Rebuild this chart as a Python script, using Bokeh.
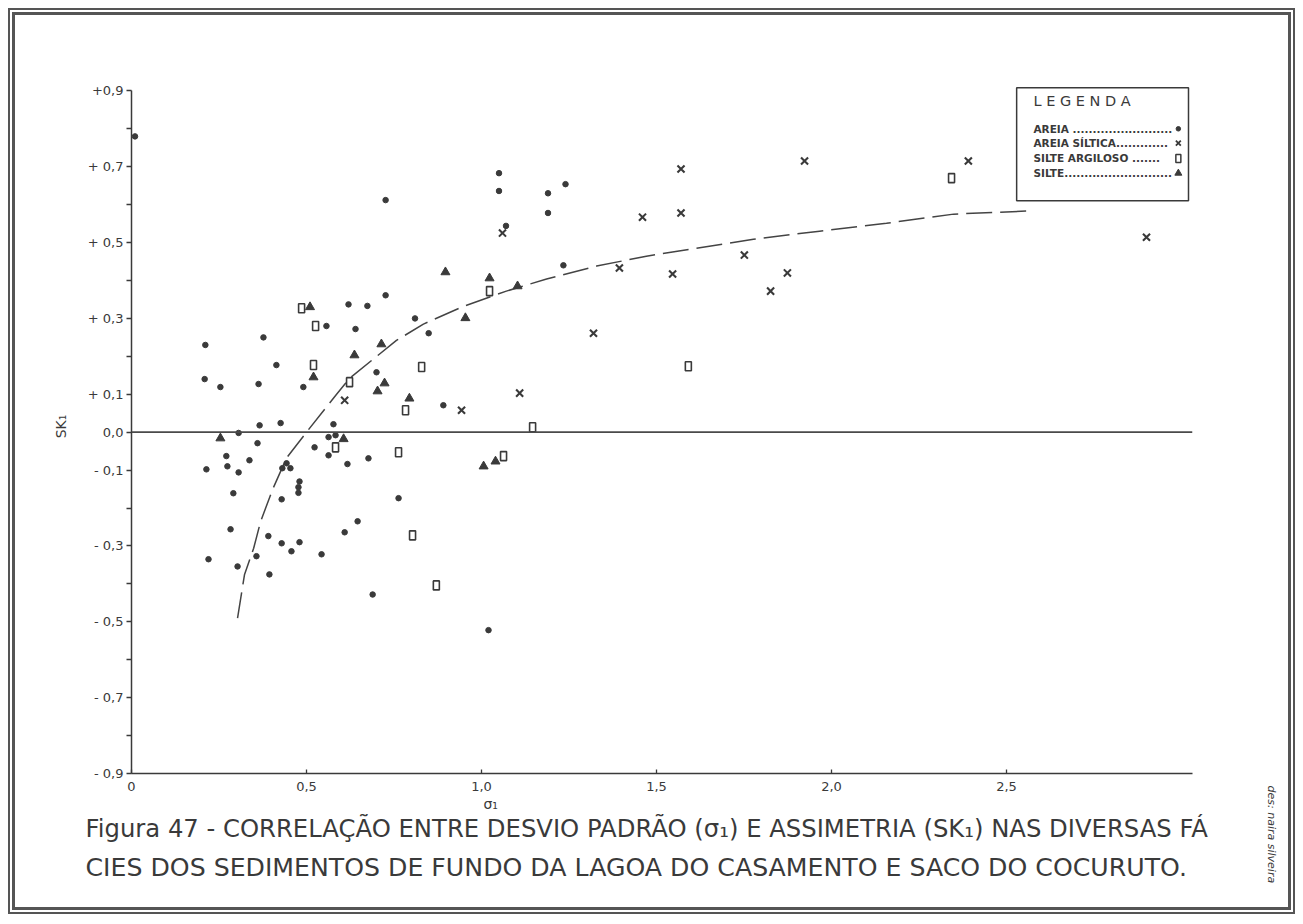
import math
from bokeh.plotting import figure
from bokeh.models import FixedTicker, Span, Label, BoxAnnotation, Title
from bokeh.embed import file_html
from bokeh.resources import INLINE

# ---------------- data ----------------
areia_x = [0.01, 0.211, 0.377, 0.414, 0.209, 0.254, 0.363, 0.491, 0.62, 0.674,
           0.557, 0.64, 0.81, 0.70, 0.726, 0.726, 0.366, 0.426, 0.577, 0.306,
           0.36, 0.563, 0.583, 0.523, 0.271, 0.563, 0.677, 0.337, 0.274, 0.617,
           0.214, 0.306, 0.431, 0.443, 0.454, 0.48, 0.477, 0.477, 0.291, 0.429,
           0.763, 0.646, 0.283, 0.609, 0.391, 0.429, 0.48, 0.457, 0.543, 0.22,
           0.357, 0.303, 0.394, 0.689, 1.02, 0.849, 1.05, 1.05, 1.19, 1.24,
           1.19, 1.07, 1.234, 0.891]
areia_y = [0.78, 0.23, 0.25, 0.177, 0.14, 0.119, 0.127, 0.119, 0.337, 0.333,
           0.28, 0.272, 0.30, 0.158, 0.612, 0.361, 0.018, 0.024, 0.021, -0.002,
           -0.029, -0.013, -0.008, -0.04, -0.063, -0.061, -0.069, -0.074, -0.09, -0.084,
           -0.098, -0.106, -0.095, -0.082, -0.095, -0.13, -0.145, -0.16, -0.161, -0.177,
           -0.174, -0.235, -0.256, -0.264, -0.274, -0.293, -0.29, -0.314, -0.322, -0.335,
           -0.327, -0.354, -0.375, -0.428, -0.522, 0.261, 0.683, 0.636, 0.63, 0.654,
           0.578, 0.544, 0.44, 0.071]

areia_siltica_x = [0.609, 0.943, 1.109, 1.06, 1.32, 1.394, 1.46, 1.546, 1.57, 1.57,
                   1.751, 1.826, 1.874, 1.923, 2.391, 2.90]
areia_siltica_y = [0.084, 0.058, 0.103, 0.525, 0.261, 0.433, 0.567, 0.417, 0.578, 0.694,
                   0.467, 0.372, 0.42, 0.715, 0.715, 0.514]

silte_argiloso_x = [0.486, 0.526, 0.52, 0.623, 0.783, 0.829, 0.583, 0.763, 0.803, 0.871,
                    1.023, 1.063, 1.146, 1.591, 2.343]
silte_argiloso_y = [0.327, 0.28, 0.177, 0.132, 0.058, 0.172, -0.04, -0.053, -0.272, -0.404,
                    0.372, -0.063, 0.013, 0.174, 0.67]

silte_x = [0.51, 0.714, 0.637, 0.52, 0.723, 0.703, 0.794, 0.254, 0.606, 0.897,
           1.023, 1.103, 0.954, 1.006, 1.04]
silte_y = [0.33, 0.232, 0.203, 0.145, 0.129, 0.108, 0.089, -0.016, -0.018, 0.422,
           0.406, 0.385, 0.301, -0.09, -0.077]

curve_x = [0.303, 0.323, 0.349, 0.369, 0.405, 0.443, 0.5, 0.586, 0.623, 0.694,
           0.757, 0.834, 0.949, 1.071, 1.186, 1.329, 1.471, 1.614, 1.777, 1.966,
           2.157, 2.349, 2.557]
curve_y = [-0.49, -0.375, -0.306, -0.235, -0.147, -0.068, 0.0, 0.1, 0.142, 0.195,
           0.242, 0.285, 0.332, 0.372, 0.404, 0.438, 0.464, 0.485, 0.509, 0.53,
           0.551, 0.575, 0.583]

x_ticks = [0, 0.5, 1.0, 1.5, 2.0, 2.5]
x_tick_labels = ["0", "0,5", "1,0", "1,5", "2,0", "2,5"]
y_ticks = [-0.9, -0.8, -0.7, -0.6, -0.5, -0.4, -0.3, -0.2, -0.1, 0.0,
           0.1, 0.2, 0.3, 0.4, 0.5, 0.6, 0.7, 0.8, 0.9]
y_tick_labels = ["- 0,9", "", "- 0,7", "", "- 0,5", "", "- 0,3", "", "- 0,1", "0,0",
                 "+ 0,1", "", "+ 0,3", "", "+ 0,5", "", "+ 0,7", "", "+0,9"]

legend_title = "L E G E N D A"
legend_labels = ["AREIA .........................",
                 "AREIA SÍLTICA.............",
                 "SILTE ARGILOSO .......",
                 "SILTE..........................."]
caption_1 = "Figura 47 - CORRELAÇÃO ENTRE DESVIO PADRÃO (σ\u2081) E ASSIMETRIA (SK\u2081) NAS DIVERSAS FÁ"
caption_2 = "CIES DOS SEDIMENTOS DE FUNDO DA LAGOA DO CASAMENTO E SACO DO COCURUTO."
x_label = "σ\u2081"
y_label = "SK\u2081"
author = "des: naira silveira"

# ---------------- figure ----------------
INK = "#3a3a3a"
FONT = "DejaVu Sans"

W, H = 1303, 922
FL, FR, FT, FB = 131, 1192, 79, 773        # frame edges on the page
p = figure(frame_width=FR - FL, frame_height=FB - FT,
           x_range=(0, (FR - FL) / 350), y_range=(-0.9, 0.93),
           min_border_left=FL, min_border_right=W - FR,
           min_border_top=FT, min_border_bottom=H - FB,
           output_backend="svg", toolbar_location=None)
p.outline_line_color = None
p.grid.visible = False
p.background_fill_color = None
p.border_fill_color = None
# drawing-sheet frame (double line) around the whole page
p.styles = {
    "background-color": "white",
    "box-shadow": ("inset 0 0 0 8px #ffffff, inset 0 0 0 10px #555555, "
                   "inset 0 0 0 12px #ffffff, inset 0 0 0 15px #555555"),
}

# axes
for ax in (p.xaxis[0], p.yaxis[0]):
    ax.axis_line_color = INK
    ax.axis_line_width = 1.5
    ax.major_tick_line_color = INK
    ax.major_tick_line_width = 1.3
    ax.minor_tick_line_color = None
    ax.major_label_text_font = FONT
    ax.major_label_text_font_size = "13px"
    ax.major_label_text_color = INK

xa = p.xaxis[0]
xa.ticker = FixedTicker(ticks=x_ticks)
xa.major_label_overrides = {float(t): l for t, l in zip(x_ticks, x_tick_labels)}
xa.major_tick_in = 4
xa.major_tick_out = 0
xa.major_label_standoff = 8

ya = p.yaxis[0]
ya.ticker = FixedTicker(ticks=y_ticks)
ya.major_label_overrides = {float(t): l for t, l in zip(y_ticks, y_tick_labels)}
ya.major_tick_in = 0
ya.major_tick_out = 5
ya.major_label_standoff = 3
ya.bounds = (-0.9, 0.9)
ya.axis_label = y_label
ya.axis_label_text_font = FONT
ya.axis_label_text_font_size = "14px"
ya.axis_label_text_font_style = "normal"
ya.axis_label_text_color = INK
ya.axis_label_standoff = 16

# zero line
p.add_layout(Span(location=0, dimension="width", line_color="#4a4a4a", line_width=1.8))

# regression curve
p.line(curve_x, curve_y, line_color="#444444", line_width=1.5, line_dash="26 8")

# data
p.scatter(areia_x, areia_y, marker="circle", size=5.5, fill_color=INK, line_color=INK)
p.scatter(areia_siltica_x, areia_siltica_y, marker="x", size=10, line_color=INK, line_width=2.1)
p.rect(silte_argiloso_x, silte_argiloso_y, width=6, height=9,
       width_units="screen", height_units="screen",
       fill_color=None, line_color=INK, line_width=1.6)
p.scatter(silte_x, silte_y, marker="triangle", size=9, fill_color=INK, line_color=INK)

# legend box (custom, as in the original)
p.add_layout(BoxAnnotation(left=2.529, right=3.02, bottom=0.61, top=0.908,
                           fill_alpha=0, line_color=INK, line_width=1.5, line_alpha=1))
p.add_layout(Label(x=2.577, y=0.872, text=legend_title, text_font=FONT,
                   text_font_size="14.5px", text_color=INK, text_baseline="middle"))
leg_y = [0.80, 0.762, 0.722, 0.683]
for yy, lab in zip(leg_y, legend_labels):
    p.add_layout(Label(x=2.577, y=yy, text=lab, text_font=FONT, text_font_size="10.5px",
                       text_font_style="bold", text_color=INK, text_baseline="middle"))
p.scatter([2.991], [leg_y[0]], marker="circle", size=4.5, fill_color=INK, line_color=INK)
p.scatter([2.991], [leg_y[1]], marker="x", size=7, line_color=INK, line_width=1.8)
p.rect([2.991], [leg_y[2]], width=5, height=8, width_units="screen", height_units="screen",
       fill_color=None, line_color=INK, line_width=1.5)
p.scatter([2.991], [leg_y[3]], marker="triangle", size=7, fill_color=INK, line_color=INK)

# x axis title and caption (side panels below the axis)
p.add_layout(Title(text=x_label, align="left", offset=352, standoff=0,
                   text_font=FONT, text_font_size="14px", text_font_style="normal",
                   text_color=INK), "below")
p.add_layout(Title(text=caption_1, align="left", offset=-46, standoff=0,
                   text_font=FONT, text_font_size="24.3px", text_font_style="normal",
                   text_color=INK), "below")
p.add_layout(Title(text=caption_2, align="left", offset=-46, standoff=17,
                   text_font=FONT, text_font_size="25.2px", text_font_style="normal",
                   text_color=INK), "below")

# author credit, vertical at the lower right (an empty spacer panel pushes it outward)
p.add_layout(Title(text=" ", standoff=56, text_font_size="12px"), "right")
p.add_layout(Title(text=author, align="left", offset=706, standoff=0,
                   text_font=FONT, text_font_size="11px", text_font_style="italic",
                   text_color=INK), "right")

open("out.html", "w").write(file_html(p, INLINE))
